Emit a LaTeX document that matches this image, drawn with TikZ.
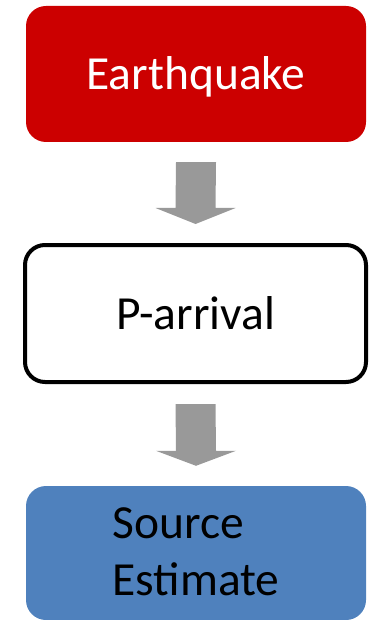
\documentclass[tikz,border=0pt]{standalone}
\usepackage{fontspec}
\setmainfont{Carlito}
\usetikzlibrary{calc}
\definecolor{eqred}{HTML}{CC0000}
\definecolor{srcblue}{HTML}{4F81BD}
\definecolor{arrowgray}{HTML}{999999}
\tikzset{
  flowbox/.style={rectangle, rounded corners=20pt, minimum width=340pt, inner sep=0pt,
    font=\fontsize{47.5}{57}\selectfont},
  blockarrow/.style={fill=arrowgray, draw=none}
}
\begin{document}
\begin{tikzpicture}[x=1pt, y=-1pt]
\useasboundingbox (0,0) rectangle (370,620);
\node[flowbox, fill=eqred, text=white, minimum height=136pt, text height=32pt, text depth=0pt] (eq) at (196,74) {Earthquake};
\node[flowbox, draw=black, line width=4pt, fill=white, minimum width=341pt, minimum height=137pt, text height=31pt, text depth=0pt] (pa) at (195.5,313.5) {P-arrival};
\node[flowbox, fill=srcblue, text=black, minimum height=134pt] (se) at (196,553) {\begin{tabular}{@{}l@{}}\rule{0pt}{46pt}Source\\Estimate\end{tabular}};
% arrow 1
\coordinate (a1s) at ($(eq.south)+(0,20)$);
\coordinate (a1e) at ($(pa.north)+(0,-19)$);
\fill[blockarrow] ($(a1s)+(-20,0)$) -- ($(a1s)+(20,0)$) -- ($(a1e)+(20,-16)$) -- ($(a1e)+(40,-16)$) -- (a1e) -- ($(a1e)+(-40,-16)$) -- ($(a1e)+(-20,-16)$) -- cycle;
% arrow 2
\coordinate (a2s) at ($(pa.south)+(0,20)$);
\coordinate (a2e) at ($(se.north)+(0,-20)$);
\fill[blockarrow] ($(a2s)+(-20,0)$) -- ($(a2s)+(20,0)$) -- ($(a2e)+(20,-15)$) -- ($(a2e)+(40,-15)$) -- (a2e) -- ($(a2e)+(-40,-15)$) -- ($(a2e)+(-20,-15)$) -- cycle;
\end{tikzpicture}
\end{document}
